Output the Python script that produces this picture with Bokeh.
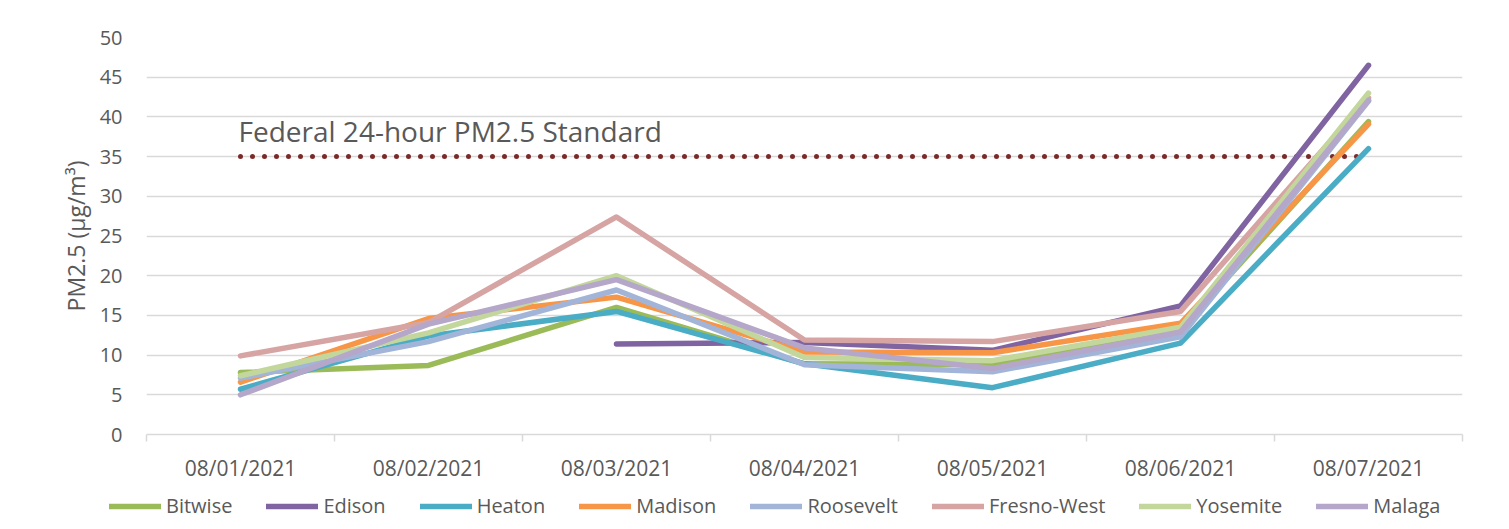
import numpy as np
from bokeh.plotting import figure
from bokeh.models import FixedTicker, Legend, LegendItem, Label, ColumnDataSource, Range1d
from bokeh.embed import file_html
from bokeh.resources import INLINE

dates = ["08/01/2021", "08/02/2021", "08/03/2021", "08/04/2021",
         "08/05/2021", "08/06/2021", "08/07/2021"]
nan = float("nan")
bitwise = [7.8, 8.7, 16.0, 8.9, 8.8, 13.2, 39.4]
edison = [nan, nan, 11.4, 11.6, 10.6, 16.2, 46.5]
heaton = [5.7, 12.4, 15.5, 8.9, 5.9, 11.5, 36.0]
madison = [6.6, 14.6, 17.3, 10.4, 10.3, 14.0, 39.1]
roosevelt = [7.1, 11.7, 18.2, 8.8, 7.9, 12.3, 42.0]
fresno_west = [9.9, 14.1, 27.4, 11.9, 11.7, 15.5, 42.4]
yosemite = [7.4, 12.8, 20.0, 9.7, 9.3, 13.5, 43.0]
malaga = [5.0, 13.9, 19.5, 10.9, 8.3, 12.9, 42.1]
standard = [35, 35, 35, 35, 35, 35, 35]

series = [
    ("Bitwise", bitwise, "#9BBB59"),
    ("Edison", edison, "#8064A2"),
    ("Heaton", heaton, "#4BACC6"),
    ("Madison", madison, "#F79646"),
    ("Roosevelt", roosevelt, "#A2B5D9"),
    ("Fresno-West", fresno_west, "#D6A5A3"),
    ("Yosemite", yosemite, "#C3D69B"),
    ("Malaga", malaga, "#B4A7C9"),
]

xs = list(range(len(dates)))
FONT = "Open Sans"
GRAY = "#595959"

p = figure(width=1500, height=485, output_backend="svg", toolbar_location=None,
           x_range=(-0.5, 6.5), y_range=(0, 50),
           min_border_left=146, min_border_right=38, min_border_top=37, min_border_bottom=51)
p.outline_line_color = None

# axes
p.xaxis.ticker = FixedTicker(ticks=xs, minor_ticks=[i - 0.5 for i in range(8)])
p.xaxis.major_label_overrides = {i: d for i, d in enumerate(dates)}
p.xaxis.major_tick_line_color = None
p.xaxis.minor_tick_line_color = "#d9d9d9"
p.xaxis.minor_tick_line_width = 1.5
p.xaxis.minor_tick_out = 7
p.xaxis.minor_tick_in = 0
p.xaxis.axis_line_color = "#d9d9d9"
p.xaxis.axis_line_width = 1.5
p.xaxis.major_label_text_font = FONT
p.xaxis.major_label_text_font_size = "21px"
p.xaxis.major_label_text_color = GRAY
p.xaxis.major_label_standoff = 12

p.yaxis.ticker = FixedTicker(ticks=list(range(0, 51, 5)))
p.yaxis.axis_line_color = None
p.yaxis.major_tick_line_color = None
p.yaxis.minor_tick_line_color = None
p.yaxis.major_label_text_font = FONT
p.yaxis.major_label_text_font_size = "20px"
p.yaxis.major_label_text_color = GRAY
p.yaxis.major_label_standoff = 18
p.yaxis.axis_label = "PM2.5 (µg/m³)"
p.yaxis.axis_label_text_font = FONT
p.yaxis.axis_label_text_font_size = "23px"
p.yaxis.axis_label_text_font_style = "normal"
p.yaxis.axis_label_text_color = GRAY
p.yaxis.axis_label_standoff = 5

p.xgrid.grid_line_color = None
p.ygrid.grid_line_color = "#d9d9d9"
p.ygrid.grid_line_width = 1.5

# standard line
p.line([0, 5.95], [standard[0], standard[-1]], line_color="#7B2A2A", line_width=5,
       line_dash="0 12", line_cap="round")
p.add_layout(Label(x=0, y=38.2, text="Federal 24-hour PM2.5 Standard",
                   text_font=FONT, text_font_size="28px", text_color=GRAY,
                   text_baseline="middle", x_offset=-2))

for name, vals, color in series:
    src = ColumnDataSource(dict(x=xs, y=vals))
    p.line("x", "y", source=src, line_color=color, line_width=5.5,
           line_cap="round", line_join="round")

# legend strip: a separate root figure so the legend is never clipped or frame-aligned
p2 = figure(width=1500, height=44, output_backend="svg", toolbar_location=None,
            x_range=Range1d(-0.5, 6.5), y_range=Range1d(1000, 1001),
            x_axis_type=None, y_axis_type=None,
            min_border_left=0, min_border_right=0, min_border_top=0, min_border_bottom=0)
p2.grid.grid_line_color = None
p2.outline_line_color = None

items = []
for name, vals, color in series:
    src = ColumnDataSource(dict(x=xs, y=vals))
    r = p2.line("x", "y", source=src, line_color=color, line_width=5.5,
                line_cap="round", line_join="round")
    items.append(LegendItem(label=name, renderers=[r]))

legend = Legend(items=items, orientation="horizontal", location=(109, 10),
                label_text_font=FONT, label_text_font_size="20px",
                label_text_color=GRAY, glyph_width=52, glyph_height=24,
                label_standoff=5, spacing=34, padding=0, margin=0,
                border_line_color=None, background_fill_alpha=0)
p2.add_layout(legend, "center")

open("out.html", "w").write(file_html([p, p2], INLINE))
